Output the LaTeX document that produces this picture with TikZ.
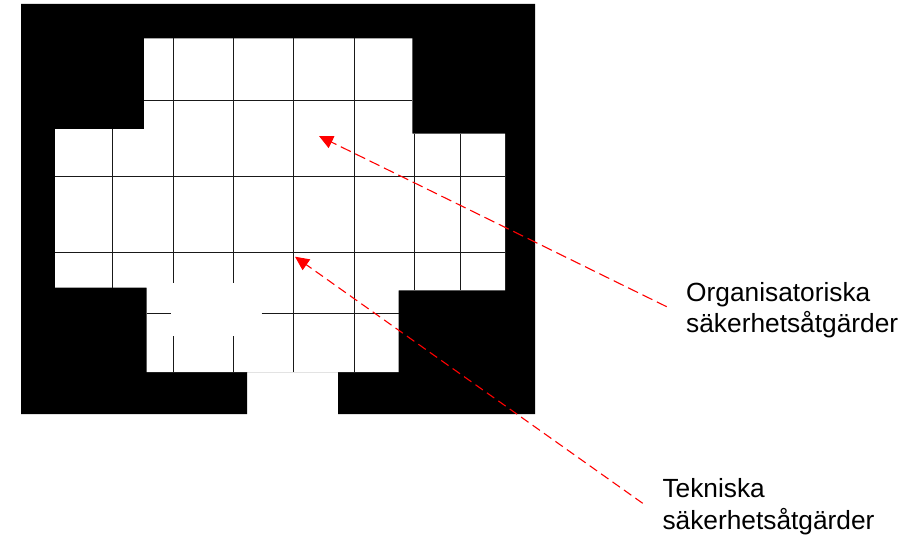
\documentclass[tikz,border=0pt]{standalone}
\usepackage{fontspec}
\setmainfont{Liberation Sans}
\usetikzlibrary{arrows.meta}
\begin{document}
\begin{tikzpicture}[x=1pt,y=-1pt,
  wall/.style={fill=black},
  floor/.style={fill=white},
  gridline/.style={draw=black!90,line width=1.2pt},
  pointer/.style={draw=red,line width=1.1pt,
    -{Triangle[length=14pt,width=13pt,fill=red]}},
  caption/.style={font=\fontsize{26.3}{31.3}\selectfont,align=left,
    inner sep=0pt,anchor=north west}]
\useasboundingbox (0,0) rectangle (924,535);

% walls: outer block with the doorway cut out of the bottom
\fill[wall] (21,4) -- (535,4) -- (535,414) -- (338,414) -- (338,372)
  -- (247,372) -- (247,414) -- (21,414) -- cycle;

% floor area
\fill[floor] (144,38.3) -- (412.3,38.3) -- (412.3,133.7) -- (505,133.7)
  -- (505,290.3) -- (398.7,290.3) -- (398.7,372) -- (146.7,372)
  -- (146.7,287.7) -- (55,287.7) -- (55,129) -- (144,129) -- cycle;

% floor grid, vertical lines
\draw[gridline] (112.7,129) -- (112.7,287.7);
\draw[gridline] (173.3,38.3) -- (173.3,282.7) (173.3,336) -- (173.3,372);
\draw[gridline] (233.7,38.3) -- (233.7,282.7) (233.7,336) -- (233.7,372);
\draw[gridline] (293.7,38.3) -- (293.7,372);
\draw[gridline] (354.7,38.3) -- (354.7,372);
\draw[gridline] (414.7,133.7) -- (414.7,290.3);
\draw[gridline] (460.3,133.7) -- (460.3,290.3);

% floor grid, horizontal lines
\draw[gridline] (144,100.3) -- (412.3,100.3);
\draw[gridline] (55,176.7) -- (505,176.7);
\draw[gridline] (55,252.3) -- (505,252.3);
\draw[gridline] (146.7,313.5) -- (170.7,313.5) (261.7,313.5) -- (398.7,313.5);

% labels
\node[caption] (org) at (686,282) {Organisatoriska\\säkerhetsåtgärder};
\node[caption] (tek) at (662.3,478.5) {Tekniska\\säkerhetsåtgärder};

% pointers from the labels into the room
\coordinate (orgtail) at (666.7,306.7);
\coordinate (orgtip) at (319,136);
\coordinate (tektail) at (642.7,503.3);
\coordinate (tektip) at (295,256.7);
\draw[pointer,dash pattern=on 11pt off 5pt] (orgtail) -- (orgtip);
\draw[pointer,dash pattern=on 9pt off 5pt] (tektail) -- (tektip);
\end{tikzpicture}
\end{document}
